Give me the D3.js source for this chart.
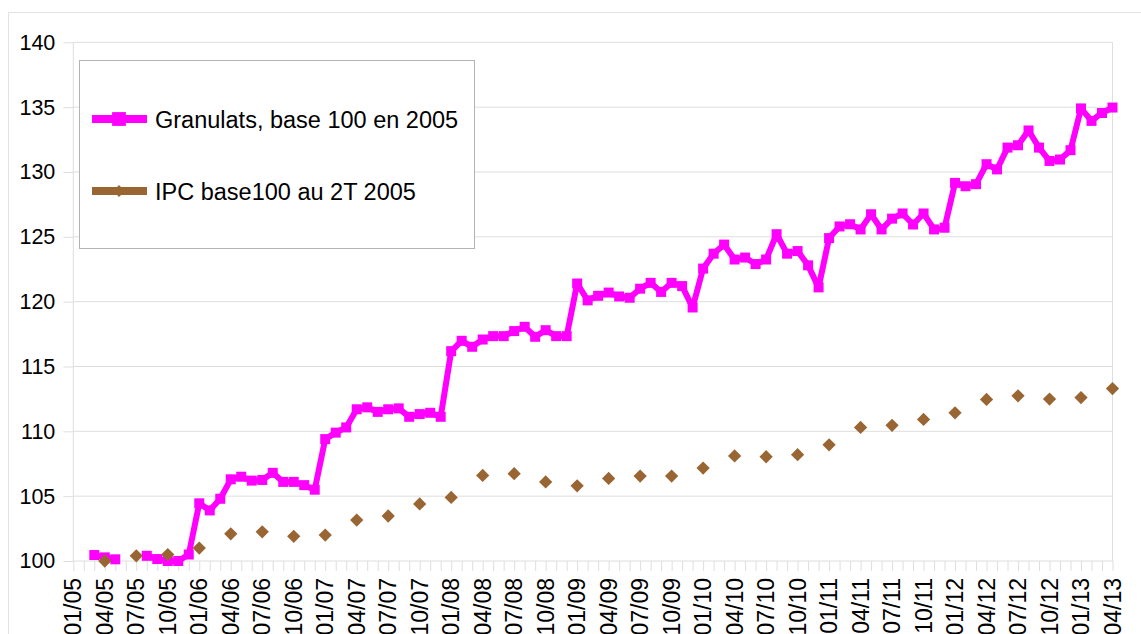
<!DOCTYPE html>
<html>
<head>
<meta charset="utf-8">
<script src="https://cdn.jsdelivr.net/npm/d3@7"></script>
<style>
  body { margin: 0; background: #fff; }
  svg { display: block; font-family: "Liberation Sans", Arial, sans-serif; }
</style>
</head>
<body>
<div id="wrapper"></div>
<script>
// month index 0 = 01/05 ... 99 = 04/13
const years = ["05", "06", "07", "08", "09", "10", "11", "12", "13"];
const monthNames = ["01", "02", "03", "04", "05", "06", "07", "08", "09", "10", "11", "12"];
const months = years.flatMap(y => monthNames.map(m => m + "/" + y)).slice(0, 100);

const tickLabels = ["01/05", "04/05", "07/05", "10/05", "01/06", "04/06", "07/06", "10/06",
  "01/07", "04/07", "07/07", "10/07", "01/08", "04/08", "07/08", "10/08",
  "01/09", "04/09", "07/09", "10/09", "01/10", "04/10", "07/10", "10/10",
  "01/11", "04/11", "07/11", "10/11", "01/12", "04/12", "07/12", "10/12",
  "01/13", "04/13"];

const yTicks = [100, 105, 110, 115, 120, 125, 130, 135, 140];

// Granulats, base 100 en 2005 (monthly, null = no value)
const granulats = [
  null, null, 100.46, 100.28, 100.13, null, null, 100.4, 100.15, 100.0, 100.0, 100.5,
  104.45, 103.9, 104.8, 106.3, 106.5, 106.2, 106.25, 106.8, 106.1, 106.1, 105.85, 105.5,
  109.4, 109.9, 110.3, 111.7, 111.85, 111.5, 111.7, 111.77, 111.12, 111.33, 111.43, 111.12,
  116.18, 116.98, 116.52, 117.08, 117.34, 117.34, 117.73, 118.06, 117.29, 117.8, 117.34, 117.34,
  121.4, 120.1, 120.45, 120.7, 120.4, 120.3, 121.0, 121.45, 120.75, 121.45, 121.2, 119.55,
  122.55, 123.7, 124.4, 123.25, 123.4, 122.9, 123.25, 125.2, 123.7, 123.9, 122.8, 121.1,
  124.9, 125.8, 125.97, 125.57, 126.74, 125.57, 126.4, 126.8, 125.95, 126.8, 125.57, 125.7,
  129.16, 128.9, 129.06, 130.6, 130.2, 131.88, 132.06, 133.2, 131.88, 130.85, 130.96, 131.68,
  134.9, 133.94, 134.55, 134.97
];

// IPC base100 au 2T 2005 (quarterly, 04/05 ... 04/13)
const ipcMonths = ["04/05", "07/05", "10/05", "01/06", "04/06", "07/06", "10/06",
  "01/07", "04/07", "07/07", "10/07", "01/08", "04/08", "07/08", "10/08",
  "01/09", "04/09", "07/09", "10/09", "01/10", "04/10", "07/10", "10/10",
  "01/11", "04/11", "07/11", "10/11", "01/12", "04/12", "07/12", "10/12",
  "01/13", "04/13"];
const ipc = [100.0, 100.4, 100.5, 101.0, 102.1, 102.25, 101.9,
  102.0, 103.16, 103.47, 104.4, 104.9, 106.6, 106.73, 106.1,
  105.8, 106.37, 106.55, 106.55, 107.17, 108.1, 108.04, 108.2,
  108.96, 110.3, 110.46, 110.92, 111.43, 112.46, 112.74, 112.49,
  112.6, 113.3];

const seriesNames = ["Granulats, base 100 en 2005", "IPC base100 au 2T 2005"];
const pink = "#ff00ff";
const brown = "#996633";
const gridColor = "#dedede";

const width = 1141, height = 634;
const margin = { top: 42.3, right: 28.5, bottom: 73, left: 73.3 };

const svg = d3.select("#wrapper").append("svg")
  .attr("width", width)
  .attr("height", height);

// outer chart border
svg.append("rect")
  .attr("x", 8.5).attr("y", 12.5)
  .attr("width", width + 20).attr("height", height + 20)
  .attr("fill", "none")
  .attr("stroke", "#e3e3e3");

const xScale = d3.scaleLinear()
  .domain([0, months.length - 1])
  .range([margin.left, width - margin.right]);

const yScale = d3.scaleLinear()
  .domain([100, 140])
  .range([height - margin.bottom, margin.top]);

const monthX = m => xScale(months.indexOf(m));

// horizontal grid
svg.append("g")
  .selectAll("line")
  .data(yTicks.slice(1))
  .join("line")
  .attr("x1", margin.left).attr("x2", width - margin.right)
  .attr("y1", d => yScale(d)).attr("y2", d => yScale(d))
  .attr("stroke", gridColor);

// right border of plot
svg.append("line")
  .attr("x1", width - margin.right).attr("x2", width - margin.right)
  .attr("y1", margin.top).attr("y2", height - margin.bottom)
  .attr("stroke", gridColor);

// y axis
const yAxis = svg.append("g")
  .attr("transform", `translate(${margin.left},0)`)
  .call(d3.axisLeft(yScale).tickValues(yTicks).tickSize(10).tickPadding(8).tickFormat(d3.format("d")));
yAxis.selectAll("line, path").attr("stroke", gridColor);
yAxis.select(".domain").attr("d", `M0,${yScale(100)}V${yScale(140)}`);
yAxis.selectAll("text")
  .attr("font-size", 21.5)
  .attr("font-family", "Liberation Sans, Arial, sans-serif")
  .attr("fill", "#000");

// x axis: monthly ticks, labels each quarter
const xAxis = svg.append("g")
  .attr("transform", `translate(0,${height - margin.bottom})`)
  .call(d3.axisBottom(xScale).tickValues(d3.range(months.length)).tickSize(10).tickFormat(""));
xAxis.selectAll("line, path").attr("stroke", gridColor);
xAxis.select(".domain").attr("d", `M${xScale(0)},0H${xScale(months.length - 1)}`);

svg.append("g")
  .selectAll("text")
  .data(tickLabels)
  .join("text")
  .attr("transform", d => `translate(${monthX(d)},${height - margin.bottom + 17}) rotate(-90)`)
  .attr("text-anchor", "end")
  .attr("dy", "0.35em")
  .attr("font-size", 23)
  .attr("fill", "#000")
  .text(d => d);

// Granulats line
const gData = granulats.map((v, i) => ({ i, v }));
const line = d3.line()
  .defined(d => d.v != null)
  .x(d => xScale(d.i))
  .y(d => yScale(d.v));

svg.append("path")
  .attr("d", line(gData))
  .attr("fill", "none")
  .attr("stroke", pink)
  .attr("stroke-width", 6)
  .attr("stroke-linejoin", "round");

svg.append("g")
  .selectAll("path")
  .data(gData.filter(d => d.v != null))
  .join("path")
  .attr("d", d3.symbol(d3.symbolSquare, 100))
  .attr("transform", d => `translate(${xScale(d.i)},${yScale(d.v)})`)
  .attr("fill", pink);

// IPC diamonds
svg.append("g")
  .selectAll("path")
  .data(ipc.map((v, k) => ({ m: ipcMonths[k], v })))
  .join("path")
  .attr("d", d3.symbol(d3.symbolSquare, 88))
  .attr("transform", d => `translate(${monthX(d.m)},${yScale(d.v)}) rotate(45)`)
  .attr("fill", brown);

// legend
const legend = svg.append("g");
legend.append("rect")
  .attr("x", 79.5).attr("y", 60.5)
  .attr("width", 395).attr("height", 188)
  .attr("fill", "#fff")
  .attr("stroke", "#b3b3b3");

const legendRows = [
  { name: seriesNames[0], color: pink, y: 119, shape: "square" },
  { name: seriesNames[1], color: brown, y: 191, shape: "diamond" }
];
const rows = legend.selectAll("g.row")
  .data(legendRows)
  .join("g")
  .attr("class", "row")
  .attr("transform", d => `translate(0,${d.y})`);
rows.append("line")
  .attr("x1", 92).attr("x2", 147)
  .attr("stroke", d => d.color)
  .attr("stroke-width", 8);
rows.append("path")
  .attr("d", d => d.shape === "square" ? d3.symbol(d3.symbolSquare, 190)() : d3.symbol(d3.symbolSquare, 72)())
  .attr("transform", d => d.shape === "square" ? "translate(119,0)" : "translate(119,0) rotate(45)")
  .attr("fill", d => d.color);
rows.append("text")
  .attr("x", 155)
  .attr("y", 9)
  .attr("font-size", 23.5)
  .attr("fill", "#000")
  .text(d => d.name);
</script>
</body>
</html>
